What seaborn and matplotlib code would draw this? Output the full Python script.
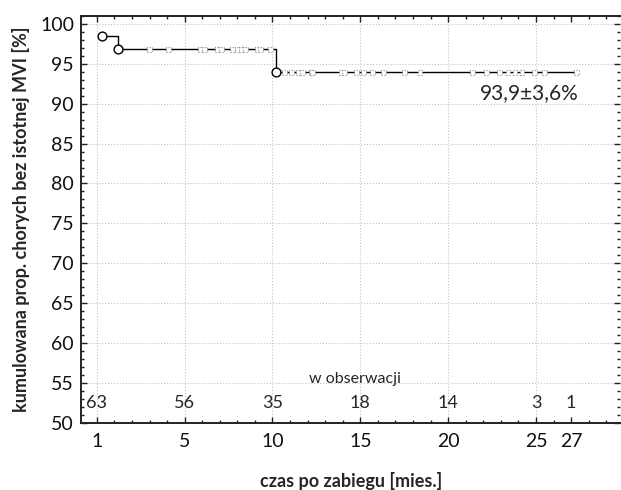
import numpy as np
import pandas as pd
import seaborn as sns
import matplotlib.pyplot as plt
from matplotlib.ticker import MultipleLocator

# Kaplan-Meier step curve (events), months vs cumulative proportion [%]
event_time = [0.32, 1.21, 10.2, 27.4]
event_surv = [98.4, 96.8, 93.9, 93.9]

# censored observations
censor_time = [1.33, 2.98, 4.06, 5.89, 6.11, 6.85, 7.08, 7.71, 8.0, 8.22, 8.45, 9.14, 9.31, 9.88,
               10.7, 11.1, 11.5, 11.7, 12.2, 12.3, 13.9, 14.1, 14.8, 15.2, 15.7, 16.3, 17.5, 18.4,
               21.4, 22.2, 22.9, 23.4, 23.8, 24.2, 24.9, 25.5, 27.3]

# number at risk row
risk_pos = [0, 5, 10, 15, 20, 25, 27]
risk_count = [63, 56, 35, 18, 14, 3, 1]

# x ticks
xtick_pos = [0, 5, 10, 15, 20, 25, 27]
xtick_lab = ["1", "5", "10", "15", "20", "25", "27"]

sns.set_theme(style="ticks")
plt.rcParams['font.family'] = ['Lato', 'DejaVu Sans']

fig = plt.figure(figsize=(6.21, 4.9), dpi=100)
ax = fig.add_axes([0.1304, 0.1361, 0.8686, 0.832])

curve = pd.DataFrame({"t": event_time, "s": event_surv})
sns.lineplot(data=curve, x="t", y="s", drawstyle="steps-post", color="black",
             linewidth=1.0, ax=ax, zorder=3)

# value of the curve at each censored time
cens_y = [event_surv[np.searchsorted(event_time, t, side="right") - 1] for t in censor_time]
sc = ax.scatter(censor_time, cens_y, marker="s", s=12, facecolor="white",
                edgecolor="#888888", linewidths=0.8, zorder=4)
sc.set_linestyle(":")

# event circles (not the final end point)
sns.scatterplot(x=event_time[:3], y=event_surv[:3], marker="o", s=40, facecolor="white",
                edgecolor="black", linewidth=1.0, ax=ax, zorder=5)

ax.text(27.4, 91.3, "93,9±3,6%", ha="right", va="center", fontsize=15)
ax.text(14.7, 55.5, "w obserwacji", ha="center", va="center", fontsize=11.5)
for p, c in zip(risk_pos, risk_count):
    ax.text(p, 52.5, str(c), ha="center", va="center", fontsize=13)

ax.set_xlim(-0.9, 29.8)
ax.set_ylim(50, 101)
ax.set_xticks(xtick_pos)
ax.set_xticklabels(xtick_lab)
ax.set_yticks(range(50, 101, 5))
ax.xaxis.set_minor_locator(MultipleLocator(1))
ax.yaxis.set_minor_locator(MultipleLocator(1))
ax.tick_params(which="both", direction="in", top=True, right=True, colors="#222222",
               labelcolor="#111111", width=1.0)
ax.tick_params(which="major", length=4, labelsize=14)
ax.tick_params(which="minor", length=2)
ax.tick_params(axis="x", pad=7)
ax.tick_params(axis="y", pad=5)

for xv in [0, 5, 10, 15, 20, 25]:
    ax.axvline(xv, color="#c4c4c4", linestyle=":", linewidth=0.8, zorder=0)
for yv in range(55, 101, 5):
    ax.axhline(yv, color="#c4c4c4", linestyle=":", linewidth=0.8, zorder=0)

for sp in ax.spines.values():
    sp.set_linewidth(1.4)
    sp.set_color("#222222")
ax.spines["right"].set_visible(False)  # cut off at the image edge in the original

ax.set_xlabel("czas po zabiegu [mies.]", fontsize=13, fontweight="bold", labelpad=16)
ax.set_ylabel("kumulowana prop. chorych bez istotnej MVI [%]", fontsize=13,
              fontweight="bold", labelpad=7)

fig.savefig("out.png", dpi=100)
